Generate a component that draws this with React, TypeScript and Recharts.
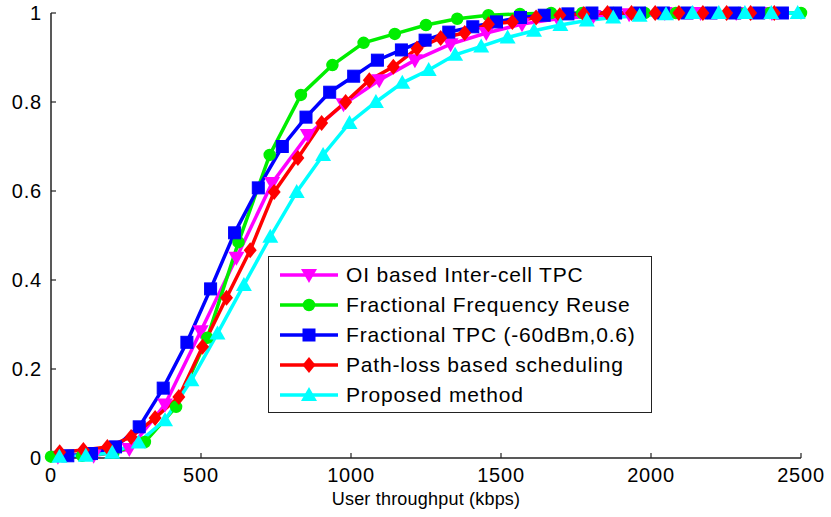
import React from "react";
import { LineChart, Line, XAxis, YAxis, Legend, Label } from "recharts";

const FONT = '"Liberation Sans", Arial, Helvetica, sans-serif';

const xTicks = [0, 500, 1000, 1500, 2000, 2500];
const yTicks = [0, 0.2, 0.4, 0.6, 0.8, 1];

// OI based Inter-cell TPC
const oiX = [23, 142, 261, 380, 499, 618, 737, 856, 975, 1094, 1213, 1332, 1451, 1570, 1689, 1808, 1927, 2046, 2165, 2284, 2403];
const oiY = [0.003, 0.005, 0.02, 0.12, 0.285, 0.45, 0.618, 0.726, 0.795, 0.849, 0.894, 0.93, 0.955, 0.975, 0.987, 0.993, 0.997, 1, 1, 1, 1];

// Fractional Frequency Reuse
const ffrX = [0, 104, 208, 313, 417, 521, 625, 729, 833, 938, 1042, 1146, 1250, 1354, 1458, 1563, 1667, 1771, 1875, 1979, 2083, 2188, 2292, 2396, 2500];
const ffrY = [0.003, 0.005, 0.012, 0.036, 0.115, 0.27, 0.485, 0.681, 0.816, 0.883, 0.933, 0.953, 0.973, 0.987, 0.995, 0.998, 1, 1, 1, 1, 1, 1, 1, 1, 1];

// Fractional TPC (-60dBm,0.6)
const ftpcX = [56, 135, 215, 294, 374, 453, 532, 612, 691, 771, 850, 929, 1009, 1088, 1168, 1247, 1326, 1406, 1485, 1565, 1644, 1723, 1803, 1882, 1962, 2041, 2120, 2200, 2279, 2359, 2438];
const ftpcY = [0.005, 0.01, 0.025, 0.07, 0.157, 0.26, 0.38, 0.506, 0.607, 0.7, 0.766, 0.822, 0.858, 0.894, 0.917, 0.939, 0.957, 0.969, 0.98, 0.99, 0.995, 0.998, 1, 1, 1, 1, 1, 1, 1, 1, 1];

// Path-loss based scheduling
const plX = [29, 108, 188, 267, 347, 426, 505, 585, 664, 744, 823, 902, 982, 1061, 1141, 1220, 1299, 1379, 1458, 1538, 1617, 1696, 1776, 1855, 1935, 2014, 2093, 2173, 2252, 2332, 2411];
const plY = [0.013, 0.018, 0.025, 0.047, 0.09, 0.137, 0.25, 0.36, 0.467, 0.598, 0.674, 0.753, 0.8, 0.849, 0.879, 0.92, 0.944, 0.955, 0.975, 0.98, 0.99, 0.995, 0.998, 1, 1, 1, 1, 1, 1, 1, 1];

// Proposed method
const propX = [28, 116, 204, 292, 380, 468, 555, 643, 731, 819, 907, 995, 1083, 1171, 1259, 1347, 1434, 1522, 1610, 1698, 1786, 1874, 1962, 2050, 2138, 2226, 2313, 2401, 2489];
const propY = [0.003, 0.005, 0.012, 0.035, 0.085, 0.175, 0.28, 0.389, 0.497, 0.598, 0.681, 0.753, 0.8, 0.843, 0.872, 0.906, 0.925, 0.945, 0.96, 0.973, 0.983, 0.99, 0.994, 0.997, 1, 1, 1, 1, 1];

const zip = (xs: number[], ys: number[]) => xs.map((x, i) => ({ x, y: ys[i] }));

type Shape = "down" | "circle" | "square" | "diamond" | "up";

const series: { name: string; color: string; shape: Shape; data: { x: number; y: number }[] }[] = [
  { name: "OI based Inter-cell TPC", color: "#ff00ff", shape: "down", data: zip(oiX, oiY) },
  { name: "Fractional Frequency Reuse", color: "#00ee00", shape: "circle", data: zip(ffrX, ffrY) },
  { name: "Fractional TPC (-60dBm,0.6)", color: "#0000ff", shape: "square", data: zip(ftpcX, ftpcY) },
  { name: "Path-loss based scheduling", color: "#ff0000", shape: "diamond", data: zip(plX, plY) },
  { name: "Proposed method", color: "#00ffff", shape: "up", data: zip(propX, propY) },
];

const Marker = ({ cx, cy, shape, color }: { cx: number; cy: number; shape: Shape; color: string }) => {
  if (cx == null || cy == null) return null;
  switch (shape) {
    case "circle":
      return <circle cx={cx} cy={cy} r={5.5} fill={color} stroke={color} strokeWidth={1.5} />;
    case "square":
      return <rect x={cx - 6} y={cy - 6} width={12} height={12} fill={color} stroke={color} strokeWidth={1} />;
    case "diamond":
      return <path d={`M${cx},${cy - 8}L${cx + 6.5},${cy}L${cx},${cy + 8}L${cx - 6.5},${cy}Z`} fill={color} />;
    case "up":
      return <path d={`M${cx},${cy - 8}L${cx + 8},${cy + 6}L${cx - 8},${cy + 6}Z`} fill={color} />;
    case "down":
      return <path d={`M${cx},${cy + 8}L${cx + 8},${cy - 6}L${cx - 8},${cy - 6}Z`} fill={color} />;
  }
  return null;
};

const renderLegend = () => (
  <div
    style={{
      width: 384,
      height: 157,
      boxSizing: "border-box",
      border: "1.5px solid #222",
      background: "#fff",
      paddingTop: 3,
      paddingLeft: 10,
      fontFamily: FONT,
      fontSize: 21,
      letterSpacing: 0.8,
      color: "#000",
    }}
  >
    {series.map((s) => (
      <div key={s.name} style={{ display: "flex", alignItems: "center", height: 30 }}>
        <svg width={60} height={20} style={{ marginRight: 7, flexShrink: 0 }}>
          <line x1={1} y1={10} x2={59} y2={10} stroke={s.color} strokeWidth={3.5} />
          <Marker cx={30} cy={10} shape={s.shape} color={s.color} />
        </svg>
        <span style={{ whiteSpace: "nowrap" }}>{s.name}</span>
      </div>
    ))}
  </div>
);

const axisLine = { stroke: "#222", strokeWidth: 1.5 };
const tickLine = { stroke: "#222", strokeWidth: 1.2 };
const tickStyle = { fill: "#000", fontSize: 20, fontFamily: FONT, letterSpacing: 0.8 };

export default function App() {
  return (
    <div style={{ position: "absolute", left: 0, top: 0, background: "#fff" }}>
      <LineChart width={831} height={517} margin={{ top: 13, right: 30, bottom: 0, left: 0 }}>
        <XAxis
          type="number"
          dataKey="x"
          domain={[0, 2500]}
          ticks={xTicks}
          height={59}
          axisLine={axisLine}
          tickLine={tickLine}
          tickSize={-5}
          tickMargin={15}
          tick={tickStyle}
          interval={0}
        >
          <Label
            value="User throughput (kbps)"
            position="insideBottom"
            offset={12}
            fill="#000"
            fontSize={18}
            fontFamily={FONT}
            letterSpacing={0.2}
          />
        </XAxis>
        <XAxis
          xAxisId="top"
          orientation="top"
          type="number"
          domain={[0, 2500]}
          ticks={xTicks}
          height={0}
          axisLine={axisLine}
          tickLine={tickLine}
          tickSize={-5}
          tick={false}
        />
        <YAxis
          type="number"
          domain={[0, 1]}
          ticks={yTicks}
          width={51}
          axisLine={axisLine}
          tickLine={tickLine}
          tickSize={-5}
          tickMargin={14}
          tick={tickStyle}
          interval={0}
        />
        <YAxis
          yAxisId="right"
          orientation="right"
          type="number"
          domain={[0, 1]}
          ticks={yTicks}
          width={0}
          axisLine={axisLine}
          tickLine={tickLine}
          tickSize={-5}
          tick={false}
        />
        {series.map((s) => (
          <Line
            key={s.name}
            data={s.data}
            dataKey="y"
            name={s.name}
            type="linear"
            stroke={s.color}
            strokeWidth={3.5}
            isAnimationActive={false}
            activeDot={false}
            dot={(p: any) => (
              <Marker key={`${s.name}-${p.index}`} cx={p.cx} cy={p.cy} shape={s.shape} color={s.color} />
            )}
          />
        ))}
        <Legend
          layout="vertical"
          align="center"
          verticalAlign="middle"
          content={renderLegend}
          wrapperStyle={{ left: 268, top: 256, bottom: "auto", right: "auto", width: 384 }}
        />
      </LineChart>
    </div>
  );
}
